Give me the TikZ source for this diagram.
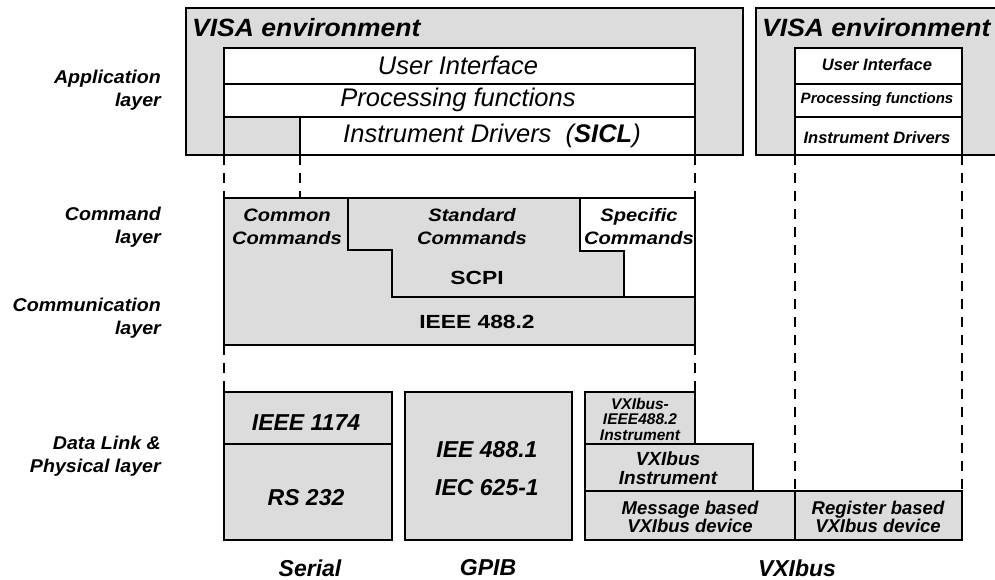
\documentclass[tikz,border=0pt]{standalone}
\usepackage{fontspec}
\setmainfont{Liberation Sans}
\newfontfamily\visaF{Liberation Sans}[FakeStretch=1.06]
\newfontfamily\lblF{Liberation Sans}[FakeStretch=1.06]
\newfontfamily\cmdF{Liberation Sans}[FakeStretch=1.12]
\newfontfamily\bigF{Liberation Sans}[FakeStretch=1.2]
\definecolor{boxgray}{HTML}{DCDCDC}
\tikzset{
  box/.style={draw=black, line width=1.9pt, fill=boxgray},
  wbox/.style={draw=black, line width=1.9pt, fill=white},
  edge/.style={draw=black, line width=1.9pt},
  dline/.style={draw=black, line width=2pt, dash pattern=on 10pt off 8pt},
  txt/.style={inner sep=0pt, align=center},
  lbl/.style={inner sep=0pt, align=right, anchor=east,
    font=\lblF\fontsize{18.5}{23}\selectfont\bfseries\itshape},
  visa/.style={inner sep=0pt, anchor=west,
    font=\visaF\fontsize{25}{30}\selectfont\bfseries\itshape},
  uil/.style={txt, font=\fontsize{25.5}{30}\selectfont\itshape},
  uir/.style={txt, font=\fontsize{16.5}{18}\selectfont\bfseries\itshape},
  cmd/.style={txt, font=\cmdF\fontsize{18}{23}\selectfont\bfseries\itshape},
  std/.style={txt, font=\bigF\fontsize{19}{23}\selectfont\bfseries},
  phy/.style={txt, font=\fontsize{23}{26}\selectfont\bfseries\itshape},
}
\begin{document}
\begin{tikzpicture}[x=1pt, y=-1pt]
\useasboundingbox (0,0) rectangle (995,580);

% ---------- VISA environments (application layer) ----------
\draw[box] (186,8) rectangle (743,155);
\draw[box] (756,8) rectangle (1012,155);
\node[visa] (visaL) at (192,28) {VISA environment};
\node[visa] (visaR) at (762,28) {VISA environment};

% left stack
\draw[wbox] (224,48) rectangle (695,84);
\draw[wbox] (224,84) rectangle (695,117);
\draw[wbox] (224,117) rectangle (695,155);
\draw[box] (224,117) rectangle (300,155);
\node[uil] (uiL) at (458,65) {User Interface};
\node[uil] (pfL) at (458,100) {Processing functions};
\node[uil] (idL) at (492,136) {Instrument Drivers \ (\textbf{SICL})};

% right stack
\draw[wbox] (795,48) rectangle (962,84);
\draw[wbox] (795,84) rectangle (962,117);
\draw[wbox] (795,117) rectangle (962,155);
\node[uir] (uiR) at (877,65) {User Interface};
\node[uir, font=\fontsize{15}{18}\selectfont\bfseries\itshape] (pfR) at (877,100) {Processing functions};
\node[uir] (idR) at (877,138) {Instrument Drivers};

% ---------- command and communication layers ----------
\draw[box] (224,198) rectangle (695,345);
\fill[white] (580,198) -- (695,198) -- (695,297) -- (624,297) -- (624,251) -- (580,251) -- cycle;
\draw[edge] (224,198) rectangle (695,345);
\draw[edge] (348,198) -- (348,250) -- (392,250) -- (392,297) -- (695,297);
\draw[edge] (580,198) -- (580,251) -- (624,251) -- (624,297);
\node[cmd] (common) at (287,227) {Common\\Commands};
\node[cmd] (standard) at (472,227) {Standard\\Commands};
\node[cmd] (specific) at (639,227) {Specific\\Commands};
\node[std] (scpi) at (477,278) {SCPI};
\node[std] (ieee4882) at (477,322) {IEEE 488.2};

% ---------- data link and physical layers ----------
\draw[box] (224,392) rectangle (392,540);
\draw[edge] (224,444) -- (392,444);
\node[phy] (i1174) at (306,423) {IEEE 1174};
\node[phy] (rs232) at (306,498) {RS 232};

\draw[box] (405,392) rectangle (572,540);
\node[phy] (gpib) at (487,469) {IEE 488.1\\[12pt]IEC 625-1};

\draw[box] (585,392) rectangle (695,444);
\draw[box] (585,444) rectangle (753,491);
\draw[box] (585,491) rectangle (795,540);
\draw[box] (795,491) rectangle (962,540);
\node[txt, font=\fontsize{15.5}{15.5}\selectfont\bfseries\itshape] (vxi488) at (640,419) {VXIbus-\\IEEE488.2\\Instrument};
\node[txt, font=\fontsize{19}{19}\selectfont\bfseries\itshape] (vxiinst) at (668,468) {VXIbus\\Instrument};
\node[txt, font=\fontsize{18.5}{18.5}\selectfont\bfseries\itshape] (msg) at (690,517) {Message based\\VXIbus device};
\node[txt, font=\fontsize{18.5}{18.5}\selectfont\bfseries\itshape] (reg) at (878,517) {Register based\\VXIbus device};

% ---------- dashed projection lines ----------
\coordinate (a1) at (224,155); \coordinate (a2) at (224,198);
\coordinate (b1) at (300,155); \coordinate (b2) at (300,198);
\coordinate (c1) at (695,155); \coordinate (c2) at (695,198);
\coordinate (d1) at (224,345); \coordinate (d2) at (224,392);
\coordinate (e1) at (695,345); \coordinate (e2) at (695,392);
\coordinate (f1) at (795,155); \coordinate (f2) at (795,491);
\coordinate (g1) at (962,155); \coordinate (g2) at (962,491);
\draw[dline] (a1) -- (a2);
\draw[dline] (b1) -- (b2);
\draw[dline] (c1) -- (c2);
\draw[dline] (d1) -- (d2);
\draw[dline] (e1) -- (e2);
\draw[dline] (f1) -- (f2);
\draw[dline] (g1) -- (g2);

% ---------- layer names ----------
\node[lbl] (app) at (161,90) {Application\\layer};
\node[lbl] (cmdl) at (161,227) {Command\\layer};
\node[lbl] (coml) at (161,318) {Communication\\layer};
\node[lbl] (phyl) at (161,456) {Data Link \&\\Physical layer};

% ---------- bus names ----------
\node[phy] (serial) at (310,568) {Serial};
\node[phy] (gpibname) at (488,568) {GPIB};
\node[phy] (vxiname) at (797,568) {VXIbus};
\end{tikzpicture}
\end{document}
